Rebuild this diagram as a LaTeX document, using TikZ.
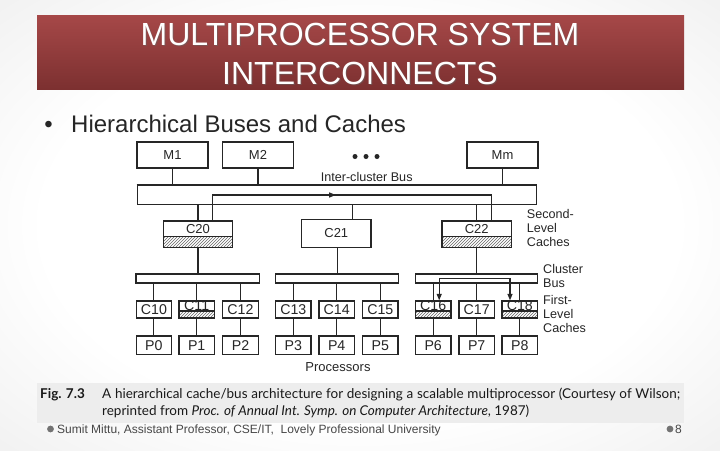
\documentclass[tikz,border=0pt]{standalone}
\usepackage{fontspec}
\setmainfont{Liberation Sans}
\newfontfamily\capfont{Lato}
\usetikzlibrary{patterns,arrows.meta,decorations.markings,calc}
\definecolor{ink}{HTML}{262626}
\definecolor{bannertop}{HTML}{A64848}
\definecolor{bannerbot}{HTML}{7C3030}
\pgfdeclareradialshading{slidebg}{\pgfpoint{0bp}{0bp}}{color(0bp)=(white); color(22bp)=(white); color(50bp)=(black!11); color(72bp)=(black!19)}
\tikzset{
  bx/.style={draw=ink, line width=1.3pt, fill=white, inner sep=0pt, text=ink},
  mbox/.style={bx, minimum width=71pt, minimum height=26pt, font=\fontsize{13}{13}\selectfont},
  lbox/.style={bx, minimum width=69.5pt, minimum height=26.5pt, font=\fontsize{13}{13}\selectfont},
  sbox/.style={bx, minimum width=35.5pt, minimum height=17pt, font=\fontsize{14.2}{14.2}\selectfont},
  pbox/.style={bx, minimum width=35.5pt, minimum height=18.3pt, font=\fontsize{14.2}{14.2}\selectfont},
  busbox/.style={bx, minimum height=#1},
  hatch/.style={path picture={
      \fill[pattern=north east lines, pattern color=black!60]
        (path picture bounding box.south west) rectangle ([yshift=#1]path picture bounding box.south east);
      \draw[line width=1.2pt, draw=ink]
        ([yshift=#1]path picture bounding box.south west) -- ([yshift=#1]path picture bounding box.south east);}},
  lb/.style={text=ink, inner sep=0pt},
  wire/.style={draw=ink, line width=1.15pt},
  side/.style={text=ink, anchor=west, inner sep=0pt, align=left, font=\fontsize{12.6}{14}\selectfont},
  plain/.style={inner sep=0pt, anchor=base west},
}
\begin{document}
\begin{tikzpicture}[x=1pt,y=-1pt]
\useasboundingbox (0,0) rectangle (720,450);
\shade[shading=slidebg] (0,0) rectangle (720,450);
% title banner
\shade[top color=bannertop, bottom color=bannerbot] (37,15) rectangle (684,89);
\node[inner sep=0pt, anchor=base, text=black!60, opacity=0.5, font=\fontsize{32}{32}\selectfont] at (361,46) {MULTIPROCESSOR SYSTEM};
\node[inner sep=0pt, anchor=base, text=black!60, opacity=0.5, font=\fontsize{32}{32}\selectfont] at (361,85) {INTERCONNECTS};
\node[inner sep=0pt, anchor=base, text=white, font=\fontsize{32}{32}\selectfont] (t1) at (360,45) {MULTIPROCESSOR SYSTEM};
\node[inner sep=0pt, anchor=base, text=white, font=\fontsize{32}{32}\selectfont] (t2) at (360,84) {INTERCONNECTS};
% bullet
\node[inner sep=0pt, anchor=base, text=black!85, font=\fontsize{24}{24}\selectfont] (bul) at (48.5,132) {\textbullet};
\node[plain, text=black!85, font=\fontsize{24}{24}\selectfont] (btxt) at (71,132) {Hierarchical Buses and Caches};

% memories
\node[mbox] (M1) at (172.5,155) {M1};
\node[mbox] (M2) at (258,155) {M2};
\node[mbox] (Mm) at (502.5,155) {Mm};
\foreach \dx in {355,366,377} \fill[ink] (\dx,156.5) circle (2.5);

% inter-cluster bus
\node[busbox=18.6pt, minimum width=399.4pt] (ibus) at (337,195) {};
\draw[ink, line width=2.5pt] (ibus.north west) -- (ibus.north east);
\node[lb, font=\fontsize{12.6}{12.6}\selectfont] (iblab) at (366.7,177) {Inter-cluster Bus};
\foreach \m in {M1,M2,Mm} \draw[wire] (\m.south) -- (\m.south |- ibus.north);

% second-level caches
\node[lbox, hatch=10.8pt, label={[lb, font=\fontsize{13}{13}\selectfont, yshift=5.2pt]center:C20}] (C20) at (198,234.25) {};
\node[lbox, minimum height=28.4pt] (C21) at (336.3,233.5) {C21};
\node[lbox, hatch=10.8pt, label={[lb, font=\fontsize{13}{13}\selectfont, yshift=5.2pt]center:C22}] (C22) at (476.7,234.25) {};
\draw[wire] (C20.north) -- (C20.north |- ibus.south);
\draw[wire] ([xshift=16.2pt]C21.north) -- ([xshift=16.2pt]C21.north |- ibus.south);
\draw[wire] (C22.north) -- (C22.north |- ibus.south);
\draw[wire, postaction={decorate}, decoration={markings, mark=at position 0.45 with {\arrow{Triangle[length=6.5pt,width=5pt]}}}]
  ([xshift=14.7pt]C20.north) |- (ibus.center) -| ([xshift=15pt]C22.north);
\node[side] (sl) at (526.7,228) {Second-\\Level\\Caches};

% cluster buses
\node[busbox=9pt, minimum width=123.3pt] (cb1) at (197.65,278.5) {};
\node[busbox=9pt, minimum width=122.6pt] (cb2) at (337,278.5) {};
\node[busbox=9pt, minimum width=121.6pt] (cb3) at (476.5,278.5) {};
\draw[wire] (C20.south) -- (C20.south |- cb1.north);
\draw[wire] ([xshift=1pt]C21.south) -- ([xshift=1pt]C21.south |- cb2.north);
\draw[wire] (C22.south) -- (C22.south |- cb3.north);
\node[side] (cbl) at (543,276) {Cluster\\Bus};

% first-level caches
\node[sbox] (C10) at (153.9,309.5) {C10};
\node[sbox, hatch=7pt, label={[lb, font=\fontsize{14.2}{14.2}\selectfont, yshift=4.2pt]center:C11}] (C11) at (196.7,309.5) {};
\node[sbox] (C12) at (240.5,309.5) {C12};
\node[sbox] (C13) at (293.3,309.5) {C13};
\node[sbox] (C14) at (336.7,309.5) {C14};
\node[sbox] (C15) at (380.3,309.5) {C15};
\node[sbox, hatch=7pt, label={[lb, font=\fontsize{14.2}{14.2}\selectfont, yshift=4.2pt]center:C16}] (C16) at (433.2,309.5) {};
\node[sbox] (C17) at (476.7,309.5) {C17};
\node[sbox, hatch=7pt, label={[lb, font=\fontsize{14.2}{14.2}\selectfont, yshift=4.2pt]center:C18}] (C18) at (519.8,309.5) {};
\node[side] (fll) at (543,313.5) {First-\\Level\\Caches};

% processors
\node[pbox] (P0) at (153.9,345.2) {P0};
\node[pbox] (P1) at (196.7,345.2) {P1};
\node[pbox] (P2) at (240.5,345.2) {P2};
\node[pbox] (P3) at (293.3,345.2) {P3};
\node[pbox] (P4) at (336.7,345.2) {P4};
\node[pbox] (P5) at (380.3,345.2) {P5};
\node[pbox] (P6) at (433.2,345.2) {P6};
\node[pbox] (P7) at (476.7,345.2) {P7};
\node[pbox] (P8) at (519.8,345.2) {P8};
\node[lb, font=\fontsize{13}{13}\selectfont] (proc) at (338,367.3) {Processors};

\foreach \c/\b in {C10/cb1,C11/cb1,C12/cb1,C13/cb2,C14/cb2,C15/cb2,C16/cb3,C17/cb3,C18/cb3}
  \draw[wire] (\c.north) -- (\c.north |- \b.south);
\foreach \c/\p in {C10/P0,C11/P1,C12/P2,C13/P3,C14/P4,C15/P5,C16/P6,C17/P7,C18/P8}
  \draw[wire] (\c.south) -- (\p.north);
\draw[wire, arrows={Triangle[length=6.5pt,width=5pt]-Triangle[length=6.5pt,width=5pt]}]
  ([xshift=6pt]C16.north) |- (cb3.center) -| ([xshift=-9.8pt]C18.north);

% caption
\fill[black!7] (37,383) rectangle (684,423);
\node[plain, text=black!90, font=\capfont\bfseries\fontsize{13.5}{13.5}\selectfont] (fig) at (40,398) {Fig. 7.3};
\node[plain, text=black!90, font=\capfont\fontsize{13.5}{13.5}\selectfont] (cap1) at (102,398)
  {\makebox[578pt][s]{A hierarchical cache/bus architecture for designing a scalable multiprocessor (Courtesy of Wilson;}};
\node[plain, text=black!90, font=\capfont\fontsize{13.5}{13.5}\selectfont] (cap2) at (102,415)
  {reprinted from \textit{Proc. of Annual Int. Symp. on Computer Architecture}, 1987)};

% footer
\fill[black!55] (50.5,429) circle (3.4);
\node[plain, text=black!72, font=\fontsize{12}{12}\selectfont] (foot) at (57,433.5) {Sumit Mittu, Assistant Professor, CSE/IT,\ \ Lovely Professional University};
\fill[black!55] (670,429) circle (3.4);
\node[plain, text=black!72, font=\fontsize{12}{12}\selectfont] (pg) at (675,433.5) {8};
\end{tikzpicture}
\end{document}
